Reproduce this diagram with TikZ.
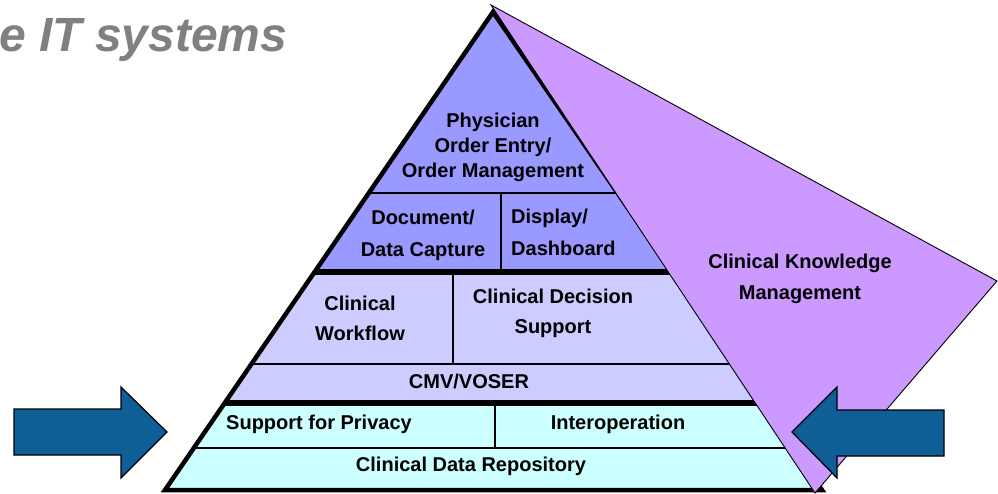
\documentclass[tikz,border=0pt]{standalone}
\usepackage{fontspec}
\setmainfont{Liberation Sans}
\definecolor{topband}{RGB}{153,153,255}
\definecolor{midband}{RGB}{204,204,255}
\definecolor{lowband}{RGB}{204,255,255}
\definecolor{ckm}{RGB}{204,153,255}
\definecolor{arrowblue}{RGB}{15,94,150}
\definecolor{titlegrey}{RGB}{128,128,128}
\begin{document}
\begin{tikzpicture}[x=1pt,y=-1pt,
  lbl/.style={font=\bfseries\fontsize{20}{25}\selectfont, align=center, inner sep=0pt, text=black},
  thinline/.style={line width=1.3pt, black},
  thickline/.style={line width=6pt, black},
  bigarrow/.style={fill=arrowblue, draw=black, line width=1.2pt, line join=miter}]
\useasboundingbox (0,0) rectangle (998,494);
% title
\node[anchor=base west, inner sep=0pt, text=titlegrey, font=\bfseries\itshape\fontsize{48}{52}\selectfont] (title) at (-1,52) {e IT systems};
% pyramid corners
\coordinate (apex) at (493,12);
\coordinate (bl) at (165,490);
\coordinate (br) at (822,490);
% bands
\begin{scope}
  \clip (apex) -- (bl) -- (br) -- cycle;
  \fill[topband] (100,0) rectangle (900,272);
  \fill[midband] (100,272) rectangle (900,403);
  \fill[lowband] (100,403) rectangle (900,495);
  \draw[thinline] (100,193) -- (900,193);
  \draw[thinline] (100,364) -- (900,364);
  \draw[thinline] (100,448) -- (900,448);
  \draw[thickline] (100,272) -- (900,272);
  \draw[thickline] (100,403) -- (900,403);
  \draw[thinline] (501,193) -- (501,272);
  \draw[thinline] (453,272) -- (453,364);
  \draw[thinline] (495,403) -- (495,448);
\end{scope}
\draw[line width=4.5pt, line join=miter, miter limit=20] (apex) -- (bl) -- (br) -- cycle;
% labels in pyramid
\node[lbl] (poe) at (493,147) {Physician\\Order Entry/\\Order Management};
\node[lbl, align=center] (doc) at (423,235) {Document/\\[7pt]Data Capture};
\node[lbl, anchor=west, align=left] (disp) at (511,232) {Display/\\[7pt]Dashboard};
\node[lbl] (wf) at (360,318) {Clinical\\[5pt]Workflow};
\node[lbl] (cds) at (553,313) {Clinical Decision\\[5pt]Support};
\node[lbl] (cmv) at (469,381) {CMV/VOSER};
\node[lbl, anchor=west] (priv) at (226,424) {Support for Privacy};
\node[lbl] (interop) at (618,424) {Interoperation};
\node[lbl] (cdr) at (471,466) {Clinical Data Repository};
% clinical knowledge management wedge
\coordinate (kapex) at (491,5);
\coordinate (kright) at (997,281);
\coordinate (kbottom) at (815,493);
\fill[ckm, draw=black, line width=0.9pt] (kapex) -- (kright) -- (kbottom) -- cycle;
\node[lbl] (ckm) at (800,279) {Clinical Knowledge\\[6pt]Management};
% arrows
\draw[bigarrow] (14,409) -- (121,409) -- (121,387) -- (167,432) -- (121,478) -- (121,455) -- (14,455) -- cycle;
\draw[bigarrow] (944,410) -- (837,410) -- (837,387) -- (792,432) -- (837,478) -- (837,456) -- (944,456) -- cycle;
\end{tikzpicture}
\end{document}
